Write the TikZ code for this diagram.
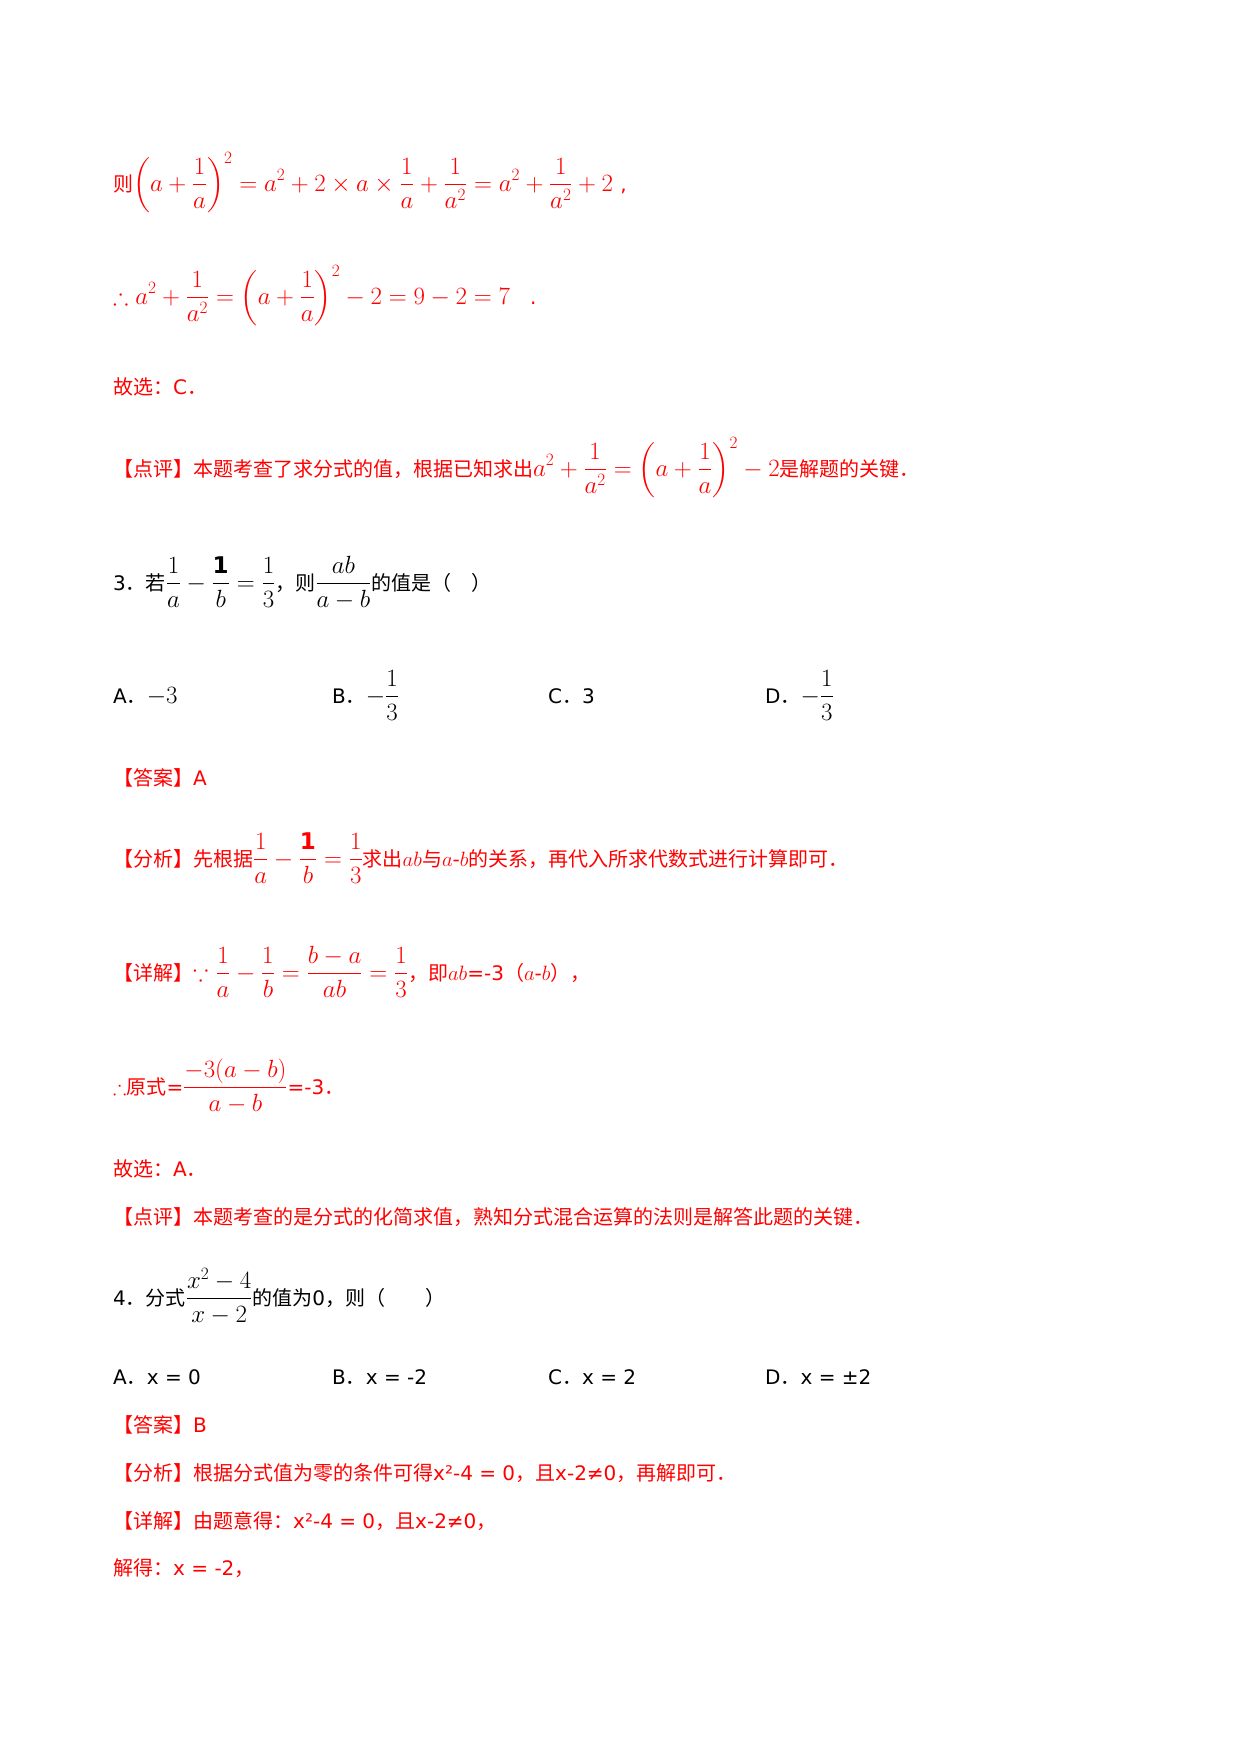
\documentclass[tikz,border=0pt]{standalone}
\usepackage{amsmath,amssymb}
\usepackage{fontspec}
\setmainfont{DejaVu Sans}
\newfontfamily\cjk{Noto Sans CJK SC}
\newcommand{\fdot}{{\cjk ．}}
\newcommand{\mbig}{\fontsize{23}{27}\selectfont}
\newcommand{\mnorm}{\fontsize{20}{24}\selectfont}
\begin{document}
\begin{tikzpicture}[x=1pt,y=-1pt]
 \tikzset{line/.style={anchor=base west, inner sep=0pt, font=\mnorm},
   sol/.style={line, text=red}}
  \useasboundingbox[fill=white] (0,0) rectangle (1240,1754);
  \node[sol] (L1) at (113,191) {{\cjk 则}\mbig$\displaystyle\left(a+\frac{1}{a}\right)^{2}=a^{2}+2\times a\times\frac{1}{a}+\frac{1}{a^{2}}=a^{2}+\frac{1}{a^{2}}+2$ \mnorm,};
  \node[sol] (L2) at (113,304) {\mbig$\displaystyle\therefore a^{2}+\frac{1}{a^{2}}=\left(a+\frac{1}{a}\right)^{2}-2=9-2=7$\mnorm\quad .};
  \node[sol] (L3) at (113,394) {{\cjk 故选：}C\fdot};
  \node[sol] (L4) at (113,476) {{\cjk 【点评】本题考查了求分式的值，根据已知求出}\mbig$\displaystyle a^{2}+\frac{1}{a^{2}}=\left(a+\frac{1}{a}\right)^{2}-2$\mnorm{\cjk 是解题的关键．}};
  \node[line] (Q3) at (113,590) {3\fdot{\cjk 若}\mbig$\displaystyle\frac{1}{a}-\frac{\mathbf{1}}{b}=\frac{1}{3}$\mnorm{\cjk ，则}\mbig$\displaystyle\frac{ab}{a-b}$\mnorm{\cjk 的值是（\quad ）}};
  \node[line] (A3) at (113,703) {A\fdot\mbig$-3$};
  \node[line] (B3) at (332,703) {B\fdot\mbig$\displaystyle-\frac{1}{3}$};
  \node[line] (C3) at (548,703) {C\fdot 3};
  \node[line] (D3) at (765,703) {D\fdot\mbig$\displaystyle-\frac{1}{3}$};
  \node[sol] (Ans3) at (113,785) {{\cjk 【答案】}A};
  \node[sol] (Ana3) at (113,866) {{\cjk 【分析】先根据}\mbig$\displaystyle\frac{1}{a}-\frac{\mathbf{1}}{b}=\frac{1}{3}$\mnorm{\cjk 求出}$ab${\cjk 与}$a$-$b${\cjk 的关系，再代入所求代数式进行计算即可．}};
  \node[sol] (Det3) at (113,980) {{\cjk 【详解】}\mbig$\displaystyle\because\frac{1}{a}-\frac{1}{b}=\frac{b-a}{ab}=\frac{1}{3}$\mnorm{\cjk ，即}$ab$=-3{\cjk （}$a$-$b${\cjk ），}};
  \node[sol] (Res3) at (113,1094) {$\therefore${\cjk 原式}=\mbig$\displaystyle\frac{-3(a-b)}{a-b}$\mnorm=-3\fdot};
  \node[sol] (Sel3) at (113,1176) {{\cjk 故选：}A\fdot};
  \node[sol] (Rev3) at (113,1224) {{\cjk 【点评】本题考查的是分式的化简求值，熟知分式混合运算的法则是解答此题的关键．}};
  \node[line] (Q4) at (113,1305) {4\fdot{\cjk 分式}\mbig$\displaystyle\frac{x^{2}-4}{x-2}$\mnorm{\cjk 的值为}0{\cjk ，则（\qquad ）}};
  \node[line] (A4) at (113,1384) {A\fdot x = 0};
  \node[line] (B4) at (332,1384) {B\fdot x = -2};
  \node[line] (C4) at (548,1384) {C\fdot x = 2};
  \node[line] (D4) at (765,1384) {D\fdot x = ±2};
  \node[sol] (Ans4) at (113,1432) {{\cjk 【答案】}B};
  \node[sol] (Ana4) at (113,1480) {{\cjk 【分析】根据分式值为零的条件可得}x²-4 = 0{\cjk ，且}x-2≠0{\cjk ，再解即可．}};
  \node[sol] (Det4) at (113,1528) {{\cjk 【详解】由题意得：}x²-4 = 0{\cjk ，且}x-2≠0{\cjk ，}};
  \node[sol] (Sol4) at (113,1575) {{\cjk 解得：}x = -2{\cjk ，}};
\end{tikzpicture}
\end{document}
